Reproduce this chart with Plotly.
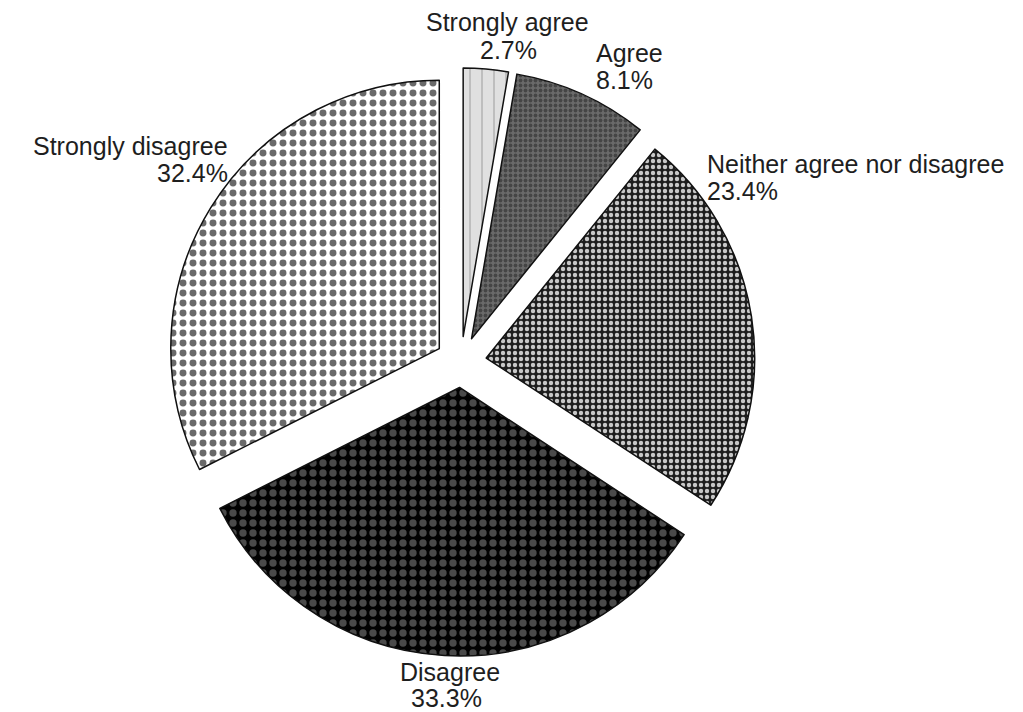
import plotly.graph_objects as go

categories = ["Strongly agree", "Agree", "Neither agree nor disagree", "Disagree", "Strongly disagree"]
values = [2.7, 8.1, 23.4, 33.3, 32.4]

W, H = 1023, 712

bg_colors = ["#e0e0e0", "#6a6a6a", "#1e1e1e", "#030303", "#ffffff"]
fg_colors = ["#a8a8a8", "#454545", "#c8c8c8", "#4a4a4a", "#6a6a6a"]
shapes = ["|", ".", ".", ".", "."]
sizes = [12, 5, 6, 10, 10]
solid = [0.1, 0.45, 0.42, 0.42, 0.38]

fig = go.Figure(go.Pie(
    labels=categories,
    values=values,
    sort=False,
    direction="clockwise",
    rotation=0,
    pull=[0.095] * len(values),
    textinfo="none",
    hoverinfo="label+percent",
    showlegend=False,
    marker=dict(
        colors=bg_colors,
        line=dict(color="#111111", width=1.5),
        pattern=dict(shape=shapes, bgcolor=bg_colors, fgcolor=fg_colors,
                     size=sizes, solidity=solid, fillmode="replace"),
    ),
    domain=dict(x=[159 / W, 747 / W], y=[1 - 648 / H, 1 - 60 / H]),
))

# label placements (pixel positions of label line and percent line)
label_pos = [
    (499, 14, 500, 42, "center"),
    (586, 45, 586, 72, "left"),
    (697, 156, 697, 183, "left"),
    (442, 664, 438, 690, "center"),
    (222, 138, 222, 165, "right"),
]
total = sum(values)
font = dict(family="Liberation Sans, Arial, sans-serif", size=25, color="#1e1e1e")
for cat, v, (lx, ly, px, py, al) in zip(categories, values, label_pos):
    fig.add_annotation(x=lx / W, y=1 - ly / H, xref="paper", yref="paper",
                       text=cat, showarrow=False, xanchor=al, yanchor="middle", font=font)
    fig.add_annotation(x=px / W, y=1 - py / H, xref="paper", yref="paper",
                       text=f"{v / total * 100:.1f}%", showarrow=False, xanchor=al,
                       yanchor="middle", font=font)

fig.update_layout(width=W, height=H, margin=dict(l=0, r=0, t=0, b=0),
                  paper_bgcolor="white", plot_bgcolor="white")
fig.write_html("out.html")
